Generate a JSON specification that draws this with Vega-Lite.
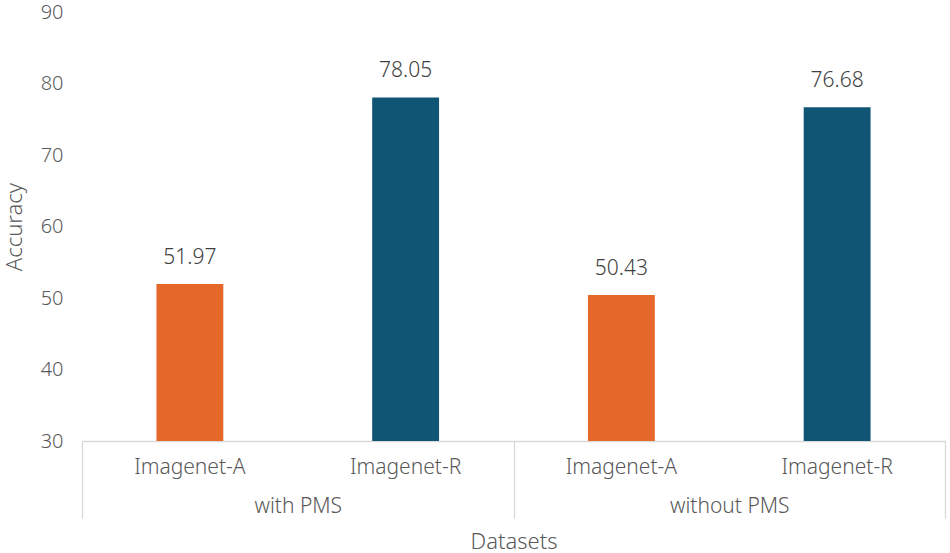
{
  "$schema": "https://vega.github.io/schema/vega-lite/v6.json",
  "width": 863,
  "height": 429,
  "autosize": "none",
  "padding": {"left": 82, "top": 12, "right": 5, "bottom": 112},
  "background": "white",
  "config": {
    "view": {"stroke": null},
    "font": "Noto Sans",
    "axis": {"labelColor": "#595959", "titleColor": "#595959", "labelFont": "Noto Sans", "titleFont": "Noto Sans", "titleFontWeight": 300, "labelFontWeight": 300}
  },
  "data": {
    "values": [
      {"setting": "with PMS", "dataset": "Imagenet-A", "key": "with PMS|Imagenet-A", "accuracy": 51.97},
      {"setting": "with PMS", "dataset": "Imagenet-R", "key": "with PMS|Imagenet-R", "accuracy": 78.05},
      {"setting": "without PMS", "dataset": "Imagenet-A", "key": "without PMS|Imagenet-A", "accuracy": 50.43},
      {"setting": "without PMS", "dataset": "Imagenet-R", "key": "without PMS|Imagenet-R", "accuracy": 76.68}
    ]
  },
  "encoding": {
    "y": {
      "field": "accuracy",
      "type": "quantitative",
      "title": "Accuracy",
      "scale": {"domain": [30, 90], "nice": false, "zero": false},
      "axis": {
        "values": [30, 40, 50, 60, 70, 80, 90],
        "grid": false, "domain": false, "ticks": false,
        "labelFontSize": 20, "labelPadding": 19,
        "titleFontSize": 22, "titlePadding": 14
      }
    }
  },
  "layer": [
    {
      "encoding": {
        "x": {
          "field": "key",
          "type": "nominal",
          "sort": null,
          "title": null,
          "scale": {"paddingInner": 0, "paddingOuter": 0},
          "axis": {
            "orient": "bottom",
            "labelExpr": "split(datum.value, '|')[1]",
            "labelAngle": 0,
            "ticks": false,
            "domainColor": "#d9d9d9",
            "domainWidth": 1.3,
            "labelFontSize": 21,
            "labelPadding": 15
          }
        }
      },
      "layer": [
        {
          "mark": {"type": "bar", "width": {"band": 0.31}, "clip": true},
          "encoding": {
            "color": {
              "field": "dataset",
              "type": "nominal",
              "scale": {"domain": ["Imagenet-A", "Imagenet-R"], "range": ["#E5672A", "#105574"]},
              "legend": null
            }
          }
        },
        {
          "mark": {"type": "text", "baseline": "alphabetic", "dy": -20, "fontSize": 21, "fontWeight": 300, "color": "#404040"},
          "encoding": {
            "text": {"field": "accuracy", "type": "quantitative", "format": ".2f"}
          }
        }
      ]
    },
    {
      "mark": {"type": "point", "opacity": 0},
      "encoding": {
        "x": {
          "field": "setting",
          "type": "nominal",
          "sort": null,
          "title": "Datasets",
          "scale": {"paddingInner": 0, "paddingOuter": 0},
          "axis": {
            "orient": "bottom",
            "domain": false,
            "tickBand": "extent",
            "tickSize": 77,
            "tickColor": "#d9d9d9",
            "tickWidth": 1.3,
            "labelAngle": 0,
            "labelFontSize": 21,
            "labelPadding": -23,
            "titleFontSize": 22,
            "titlePadding": 13
          }
        }
      }
    }
  ],
  "resolve": {"scale": {"x": "independent"}, "axis": {"x": "independent"}}
}
